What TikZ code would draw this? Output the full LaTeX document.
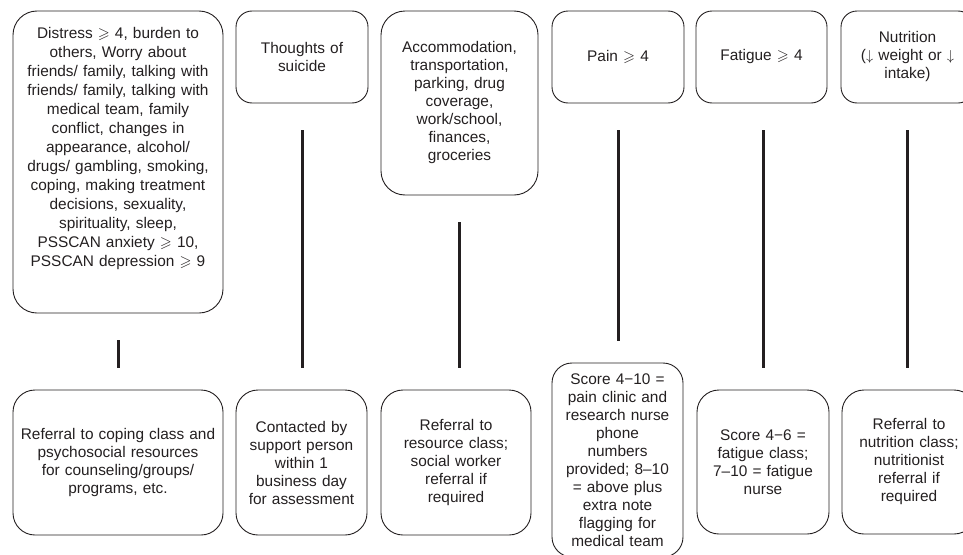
\documentclass[tikz,border=0pt]{standalone}
\usepackage{fontspec}
\usepackage{amssymb}
\setmainfont{Liberation Sans}
\usetikzlibrary{calc}
\lineskiplimit=-20pt
\definecolor{ink}{HTML}{231F20}
\tikzset{
  box/.style={draw=ink, line width=0.9pt, rounded corners=#1, align=center,
    inner sep=2pt, text=ink, font=\fontsize{15.4}{18}\selectfont},
  box/.default=16pt,
  txt/.style={align=center, inner sep=0pt, text=ink, font=\fontsize{15.4}{19}\selectfont},
  link/.style={draw=ink, line width=3pt, shorten <=27pt, shorten >=22pt},
}
\begin{document}
\begin{tikzpicture}[x=1pt,y=-1pt]
\useasboundingbox (0,0) rectangle (963,554);
\clip (0,0) rectangle (963,554);

% top row
\node[box=24pt, minimum width=210pt, minimum height=302pt] (d1) at (118,162) {};
\node[txt, text width=206pt] (d1t) at (118,149) {Distress $\geqslant$ 4, burden to\\ others, Worry about\\ friends/ family, talking with\\ friends/ family, talking with\\ medical team, family\\ conflict, changes in\\ appearance, alcohol/\\ drugs/ gambling, smoking,\\ coping, making treatment\\ decisions, sexuality,\\ spirituality, sleep,\\ PSSCAN anxiety $\geqslant$ 10,\\ PSSCAN depression $\geqslant$ 9};

\node[box, minimum width=132pt, minimum height=92pt, text width=126pt] (d2) at (302,57) {Thoughts of\\ suicide\\[13pt]};
\node[box=24pt, minimum width=157pt, minimum height=184pt, text width=150pt] (d3) at (459.5,103) {Accommodation,\\ transportation,\\ parking, drug\\ coverage,\\ work/school,\\ finances,\\ groceries};
\node[box, minimum width=132pt, minimum height=92pt, text width=126pt] (d4) at (618,57) {Pain $\geqslant$ 4};
\node[box, minimum width=131pt, minimum height=92pt, text width=125pt] (d5) at (761.5,57) {Fatigue $\geqslant$ 4};
\node[box, minimum width=133pt, minimum height=92pt, text width=127pt] (d6) at (907.5,57) {Nutrition\\ ($\downarrow$ weight or $\downarrow$\\ intake)\\[32pt]};

% bottom row
\node[box=22pt, minimum width=210pt, minimum height=145pt, text width=206pt] (r1) at (118,462.5) {Referral to coping class and\\ psychosocial resources\\ for counseling/groups/\\ programs, etc.};
\node[box=22pt, minimum width=131pt, minimum height=145pt, text width=126pt] (r2) at (301.5,462.5) {Contacted by\\ support person\\ within 1\\ business day\\ for assessment};
\node[box=22pt, minimum width=150pt, minimum height=145pt, text width=144pt] (r3) at (456,462.5) {Referral to\\ resource class;\\ social worker\\ referral if\\ required};
\node[box=20pt, minimum width=131pt, minimum height=194pt, text width=127pt] (r4) at (617.5,460) {Score 4−10 =\\ pain clinic and\\ research nurse\\ phone\\ numbers\\ provided; 8–10\\ = above plus\\ extra note\\ flagging for\\ medical team};
\node[box=22pt, minimum width=132pt, minimum height=144pt, text width=126pt] (r5) at (763,462) {Score 4−6 =\\ fatigue class;\\ 7–10 = fatigue\\ nurse};
\node[box=22pt, minimum width=134pt, minimum height=144pt, text width=128pt] (r6) at (909,462) {Referral to\\ nutrition class;\\ nutritionist\\ referral if\\ required};

% connectors
\draw[link] (d1.south) -- (d1.south |- r1.north);
\draw[link] (d2.south) -- (d2.south |- r2.north);
\draw[link] (d3.south) -- (d3.south |- r3.north);
\draw[link] (d4.south) -- (d4.south |- r4.north);
\draw[link] (r5.north |- d5.south) -- (r5.north);
\draw[link] (d6.south) -- (d6.south |- r6.north);
\end{tikzpicture}
\end{document}
